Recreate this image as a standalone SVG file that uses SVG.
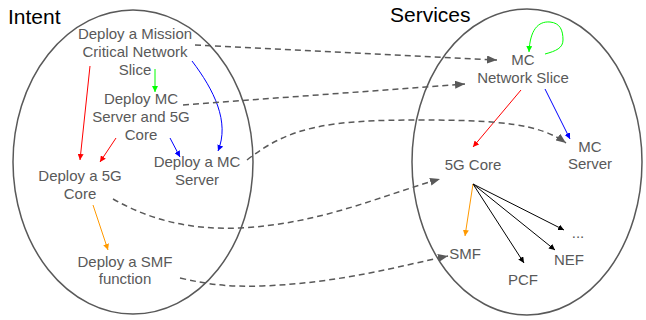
<svg xmlns="http://www.w3.org/2000/svg" width="646" height="320" viewBox="0 0 646 320">
  <style>
    .title { font-family: "Liberation Sans", Arial, sans-serif; font-size: 21px; fill: #000; }
    .lbl { font-family: "Liberation Sans", Arial, sans-serif; font-size: 15px; fill: #595959; text-anchor: middle; }
    .domain { fill: none; stroke: #595959; stroke-width: 1.5; }
    .dash { fill: none; stroke: #595959; stroke-width: 1.5; stroke-dasharray: 6 4; marker-end: url(#ahGray); }
    .red { fill: none; stroke: #ff0000; stroke-width: 1; marker-end: url(#ahRed); }
    .green { fill: none; stroke: #00ff00; stroke-width: 1; marker-end: url(#ahGreen); }
    .blue { fill: none; stroke: #0000ff; stroke-width: 1; marker-end: url(#ahBlue); }
    .orange { fill: none; stroke: #ff9900; stroke-width: 1; marker-end: url(#ahOrange); }
    .black { fill: none; stroke: #000; stroke-width: 1; marker-end: url(#ahBlack); }
  </style>
  <defs>
    <marker id="ahGray" viewBox="0 0 10 8" refX="10" refY="4" markerWidth="10" markerHeight="8" markerUnits="userSpaceOnUse" orient="auto">
      <path d="M0,0 L10,4 L0,8 Z" fill="#595959"/>
    </marker>
    <marker id="ahRed" viewBox="0 0 6 6" refX="6" refY="3" markerWidth="6" markerHeight="6" markerUnits="userSpaceOnUse" orient="auto">
      <path d="M0,0 L6,3 L0,6 Z" fill="#ff0000"/>
    </marker>
    <marker id="ahGreen" viewBox="0 0 6 6" refX="6" refY="3" markerWidth="6" markerHeight="6" markerUnits="userSpaceOnUse" orient="auto">
      <path d="M0,0 L6,3 L0,6 Z" fill="#00ff00"/>
    </marker>
    <marker id="ahBlue" viewBox="0 0 6 6" refX="6" refY="3" markerWidth="6" markerHeight="6" markerUnits="userSpaceOnUse" orient="auto">
      <path d="M0,0 L6,3 L0,6 Z" fill="#0000ff"/>
    </marker>
    <marker id="ahOrange" viewBox="0 0 6 6" refX="6" refY="3" markerWidth="6" markerHeight="6" markerUnits="userSpaceOnUse" orient="auto">
      <path d="M0,0 L6,3 L0,6 Z" fill="#ff9900"/>
    </marker>
    <marker id="ahBlack" viewBox="0 0 6 6" refX="6" refY="3" markerWidth="6" markerHeight="6" markerUnits="userSpaceOnUse" orient="auto">
      <path d="M0,0 L6,3 L0,6 Z" fill="#000"/>
    </marker>
  </defs>

  <rect width="646" height="320" fill="#fff"/>

  <!-- Domains -->
  <g id="intent-domain">
    <ellipse class="domain" cx="133" cy="162" rx="120" ry="152"/>
    <text class="title" x="8" y="24">Intent</text>
  </g>
  <g id="services-domain">
    <ellipse class="domain" cx="527" cy="162" rx="115" ry="153"/>
    <text class="title" x="390" y="22">Services</text>
  </g>

  <!-- Intent nodes -->
  <g id="intent-slice">
    <text class="lbl" x="135" y="39">Deploy a Mission</text>
    <text class="lbl" x="135" y="57">Critical Network</text>
    <text class="lbl" x="135" y="75">Slice</text>
  </g>
  <g id="intent-server-core">
    <text class="lbl" x="141" y="104">Deploy MC</text>
    <text class="lbl" x="141" y="122">Server and 5G</text>
    <text class="lbl" x="141" y="140">Core</text>
  </g>
  <g id="intent-mc-server">
    <text class="lbl" x="197" y="167">Deploy a MC</text>
    <text class="lbl" x="197" y="185">Server</text>
  </g>
  <g id="intent-5g-core">
    <text class="lbl" x="80" y="181">Deploy a 5G</text>
    <text class="lbl" x="80" y="199">Core</text>
  </g>
  <g id="intent-smf">
    <text class="lbl" x="125" y="267">Deploy a SMF</text>
    <text class="lbl" x="125" y="284">function</text>
  </g>

  <!-- Service nodes -->
  <g id="svc-slice">
    <text class="lbl" x="523" y="65">MC</text>
    <text class="lbl" x="523" y="83">Network Slice</text>
  </g>
  <g id="svc-mc-server">
    <text class="lbl" x="590" y="152">MC</text>
    <text class="lbl" x="590" y="169">Server</text>
  </g>
  <g id="svc-5g-core">
    <text class="lbl" x="473" y="170">5G Core</text>
  </g>
  <g id="svc-smf">
    <text class="lbl" x="465" y="259">SMF</text>
  </g>
  <g id="svc-pcf">
    <text class="lbl" x="523" y="285">PCF</text>
  </g>
  <g id="svc-nef">
    <text class="lbl" x="569" y="265">NEF</text>
  </g>
  <g id="svc-more">
    <text class="lbl" x="578" y="238">...</text>
  </g>

  <!-- Connectors -->
  <g id="connectors">
    <!-- intent decomposition -->
    <path class="red" d="M90,66 L80,160"/>
    <path class="red" d="M116,138 L100,162"/>
    <path class="green" d="M155,69 L155,92"/>
    <path class="blue" d="M170,138 L180,157"/>
    <path class="blue" d="M192,61 C214,90 230,122 218,151"/>
    <path class="orange" d="M93,205 L108,250"/>

    <!-- service relations -->
    <path class="green" d="M545,54 C556,51 563,48 563,40 C563,30 560,23 550,22 C538,21 530,30 529,52"/>
    <path class="red" d="M521,90 L473,147"/>
    <path class="blue" d="M545,89 L570,139"/>
    <path class="orange" d="M473,184 L465,236"/>
    <path class="black" d="M473,184 L564,230"/>
    <path class="black" d="M473,184 L555,250"/>
    <path class="black" d="M473,184 L524,263"/>

    <!-- intent to service mappings -->
    <path class="dash" d="M195,45 L497,60"/>
    <path class="dash" d="M183,105 L465,84"/>
    <path class="dash" d="M247,160 C290,126 330,120 420,120 C500,120 540,124 566,143"/>
    <path class="dash" d="M113,199 C150,220 190,230 240,228 C320,224 380,196 440,179"/>
    <path class="dash" d="M180,278 C210,285 232,287 262,286 C340,283 400,266 448,256"/>
  </g>
</svg>
